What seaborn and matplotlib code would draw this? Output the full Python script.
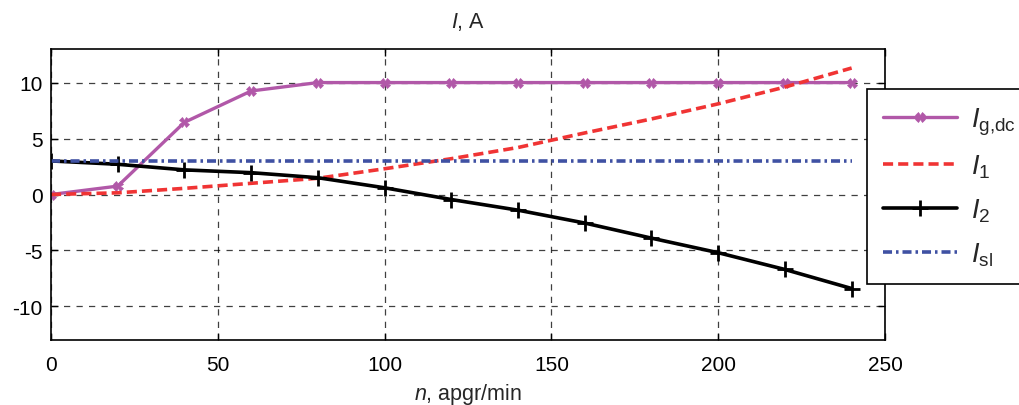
import matplotlib
matplotlib.use("Agg")
import matplotlib.pyplot as plt
import seaborn as sns
import pandas as pd
import numpy as np

# ---- data ----
n_vals = [0, 20, 40, 60, 80, 100, 120, 140, 160, 180, 200, 220, 240]
I_gdc = [0.0, 0.75, 6.45, 9.25, 10.0, 10.0, 10.0, 10.0, 10.0, 10.0, 10.0, 10.0, 10.0]
I_1 = [0.0, 0.15, 0.55, 1.0, 1.45, 2.3, 3.2, 4.2, 5.5, 6.75, 8.1, 9.6, 11.3]
I_2 = [3.0, 2.7, 2.2, 1.95, 1.5, 0.6, -0.45, -1.4, -2.55, -3.9, -5.2, -6.7, -8.4]
I_sl = [3.0] * 13
x_ticks = [0, 50, 100, 150, 200, 250]
y_ticks = [-10, -5, 0, 5, 10]

sns.set_style("ticks")
plt.rcParams['font.family'] = ['Liberation Sans', 'DejaVu Sans']
plt.rcParams['mathtext.fontset'] = 'custom'
plt.rcParams['mathtext.rm'] = 'Liberation Sans'
plt.rcParams['mathtext.it'] = 'Liberation Sans:italic'
plt.rcParams['axes.unicode_minus'] = False

fig = plt.figure(figsize=(10.19, 4.06), dpi=100)
ax = fig.add_axes([51/1019, 1-341/406, (885-51)/1019, (341-50)/406])

df = pd.DataFrame({"n": n_vals, "gdc": I_gdc, "I1": I_1, "I2": I_2, "sl": I_sl})

purple = "#b158a8"
red = "#f03434"
blue = "#3f51a3"

lab_g = r"$\mathit{I}_{\mathrm{g{,}dc}}$"
lab_1 = r"$\mathit{I}_{\mathrm{1}}$"
lab_2 = r"$\mathit{I}_{\mathrm{2}}$"
lab_s = r"$\mathit{I}_{\mathrm{sl}}$"

sns.lineplot(data=df, x="n", y="gdc", ax=ax, color=purple, lw=2.4, marker="X",
             markersize=7, markeredgewidth=0.5, markeredgecolor=purple, label=lab_g)
sns.lineplot(data=df, x="n", y="I1", ax=ax, color=red, lw=2.6, label=lab_1)
sns.lineplot(data=df, x="n", y="I2", ax=ax, color="black", lw=2.6, marker="+",
             markersize=11, markeredgewidth=2.0, markeredgecolor="black", label=lab_2)
sns.lineplot(data=df, x="n", y="sl", ax=ax, color=blue, lw=2.6, label=lab_s)

for line in ax.get_lines():
    if line.get_label() == lab_1:
        line.set_dashes([2.8, 1.4])
    elif line.get_label() == lab_s:
        line.set_dashes([2.5, 1.1, 0.7, 1.1])

ax.set_xlim(0, 250)
ax.set_ylim(-13, 13)
ax.set_xticks(x_ticks)
ax.set_yticks(y_ticks)
ax.tick_params(direction="in", top=True, right=True, labelsize=15, length=5, width=1,
               colors="black")
ax.tick_params(axis="x", pad=11)
ax.tick_params(axis="y", pad=6)
for s in ax.spines.values():
    s.set_linewidth(1.2)
    s.set_color("black")
ax.grid(True, color="black", linestyle=(0, (5, 5)), lw=0.9, alpha=0.75)

ax.set_title(r"$\mathit{I}$, A", fontsize=15.5, pad=16)
ax.set_xlabel(r"$\mathit{n}$, apgr/min", fontsize=15.5, labelpad=5)
ax.set_ylabel("")

leg = ax.legend(loc="upper left", bbox_to_anchor=(0.978, 0.862), fontsize=19.5,
                frameon=True, fancybox=False, framealpha=1, edgecolor="black",
                handlelength=2.75, borderpad=0.6, labelspacing=0.6, handletextpad=0.5,
                borderaxespad=0)
leg.get_frame().set_linewidth(1.2)

fig.savefig("out.png", dpi=100)
